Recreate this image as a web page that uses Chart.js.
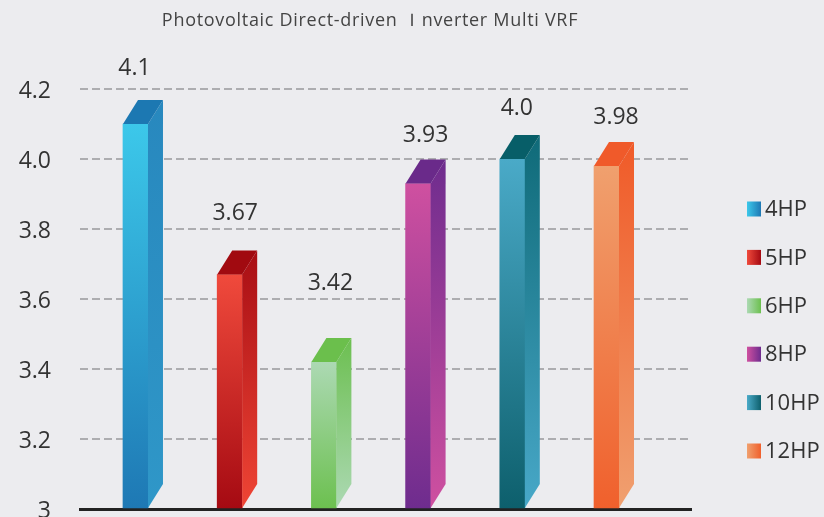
<!DOCTYPE html>
<html>
<head>
<meta charset="utf-8">
<title>Photovoltaic Direct-driven Inverter Multi VRF</title>
<script src="https://cdn.jsdelivr.net/npm/chart.js@4.4.0/dist/chart.umd.min.js"></script>
<style>
  html, body { margin: 0; padding: 0; background: #ececef; }
  #wrap { width: 824px; height: 517px; }
</style>
</head>
<body>
<div id="wrap"><canvas id="vrf-chart"></canvas></div>
<script>
// models and their ratings
var models = ['4HP', '5HP', '6HP', '8HP', '10HP', '12HP'];
var ratings = [4.1, 3.67, 3.42, 3.93, 4.0, 3.98];
var yTicks = [3, 3.2, 3.4, 3.6, 3.8, 4.0, 4.2];
var heading = 'Photovoltaic Direct-driven \uFF29nverter Multi VRF';

// colours per model
var lightTone = ['#3cc8ea', '#f04a3c', '#acd9b3', '#cf50a0', '#4aaac8', '#f0a06e'];
var darkTone  = ['#1e78b4', '#a50a12', '#6cc04f', '#6e2c8e', '#0d5f6c', '#f0602c'];
var sideTop   = ['#2888be', '#a80e14', '#6cbf50', '#6e2c8e', '#0f6a78', '#f05a28'];
var sideBase  = ['#2f97c8', '#ef4535', '#acd9b3', '#cf50a0', '#48a8c8', '#f0a070'];
var lidTone   = ['#1c78b2', '#a10a10', '#6bbf4c', '#6a2a8a', '#075e68', '#f05a2a'];

var FONT = "'Open Sans', 'DejaVu Sans', sans-serif";

function valueText(v) {
    var s = String(v);
    return s.indexOf('.') >= 0 ? s : v.toFixed(1);
}

// vertical gradient on the front face of each bar
function frontFill(context) {
    var chart = context.chart;
    var i = context.dataIndex;
    if (i === undefined) return darkTone[0];
    if (!chart.chartArea || !chart.scales.y) return darkTone[i];
    var y = chart.scales.y;
    var g = chart.ctx.createLinearGradient(0, y.getPixelForValue(ratings[i]), 0, y.getPixelForValue(y.min));
    g.addColorStop(0, lightTone[i]);
    g.addColorStop(1, darkTone[i]);
    return g;
}

// heading line above the plot
var headline = {
    id: 'headline',
    afterDraw: function(chart, args, opts) {
        var c = chart.ctx;
        c.save();
        c.font = opts.size + 'px ' + FONT;
        c.fillStyle = '#444';
        c.textAlign = 'center';
        c.textBaseline = 'middle';
        if ('letterSpacing' in c) c.letterSpacing = opts.spacing + 'px';
        c.fillText(heading, opts.x, opts.y);
        c.restore();
    }
};

// side and top faces that give the bars their depth
var blockFaces = {
    id: 'blockFaces',
    afterDatasetsDraw: function(chart, args, opts) {
        var c = chart.ctx;
        var dx = opts.depthX, dy = opts.depthY;
        c.save();
        chart.getDatasetMeta(0).data.forEach(function(bar, i) {
            var p = bar.getProps(['x', 'y', 'base', 'width'], true);
            var l = p.x - p.width / 2, r = p.x + p.width / 2;

            var g = c.createLinearGradient(0, p.y - dy, 0, p.base);
            g.addColorStop(0, sideTop[i]);
            g.addColorStop(1, sideBase[i]);
            c.fillStyle = g;
            c.beginPath();
            c.moveTo(r, p.y);
            c.lineTo(r + dx, p.y - dy);
            c.lineTo(r + dx, p.base - dy);
            c.lineTo(r, p.base);
            c.closePath();
            c.fill();

            c.fillStyle = lidTone[i];
            c.beginPath();
            c.moveTo(l, p.y);
            c.lineTo(l + dx, p.y - dy);
            c.lineTo(r + dx, p.y - dy);
            c.lineTo(r, p.y);
            c.closePath();
            c.fill();
        });
        c.restore();
    }
};

// numbers above the bars
var barValues = {
    id: 'barValues',
    afterDatasetsDraw: function(chart, args, opts) {
        var c = chart.ctx;
        c.save();
        c.font = '23px ' + FONT;
        c.fillStyle = '#333';
        c.textAlign = 'center';
        c.textBaseline = 'middle';
        chart.getDatasetMeta(0).data.forEach(function(bar, i) {
            var p = bar.getProps(['x', 'y'], true);
            c.fillText(valueText(ratings[i]), p.x + opts.shift[i], p.y - opts.lift[i]);
        });
        c.restore();
    }
};

// key on the right
var sideKey = {
    id: 'sideKey',
    afterDraw: function(chart, args, opts) {
        var c = chart.ctx;
        c.save();
        c.font = '22px ' + FONT;
        c.textBaseline = 'middle';
        c.textAlign = 'left';
        models.forEach(function(name, i) {
            var cy = opts.top + i * opts.gap;
            var g = c.createLinearGradient(opts.x, 0, opts.x + 14, 0);
            g.addColorStop(0, lightTone[i]);
            g.addColorStop(1, darkTone[i]);
            c.fillStyle = g;
            c.fillRect(opts.x, cy - 7.5, 14, 15);
            c.fillStyle = '#333';
            c.fillText(name, opts.x + 18, cy + 1);
        });
        c.restore();
    }
};

var ctx = document.getElementById('vrf-chart').getContext('2d');
var chart = new Chart(ctx, {
    type: 'bar',
    data: {
        datasets: [{
            label: 'VRF',
            data: ratings.map(function(v, i) { return { x: i, y: v }; }),
            base: yTicks[0],
            backgroundColor: frontFill,
            borderWidth: 0,
            barThickness: 25
        }]
    },
    plugins: [headline, blockFaces, barValues, sideKey],
    options: {
        responsive: true,
        maintainAspectRatio: false,
        animation: false,
        layout: { padding: { top: 89, left: 0, right: 133, bottom: 8 } },
        plugins: {
            legend: { display: false },
            tooltip: { enabled: false },
            title: { display: false },
            headline: { x: 370, y: 21, size: 18, spacing: 0.7 },
            blockFaces: { depthX: 15, depthY: 24 },
            barValues: {
                lift: [56, 61, 79, 48, 51, 49],
                shift: [-1, 5.5, 6.5, 7.5, 4.5, 9.5]
            },
            sideKey: { x: 747, top: 209, gap: 48.4 }
        },
        scales: {
            x: {
                type: 'linear',
                offset: false,
                min: -0.589,
                max: 5.897,
                z: 1,
                grid: { display: false },
                ticks: { display: false },
                border: { display: true, color: '#222', width: 3 },
                afterFit: function(scale) { scale.height = 0; }
            },
            y: {
                min: yTicks[0],
                max: yTicks[yTicks.length - 1],
                afterBuildTicks: function(scale) {
                    scale.ticks = yTicks.map(function(v) { return { value: v }; });
                },
                afterFit: function(scale) {
                    scale.width = 80;
                    scale.paddingTop = 0;
                    scale.paddingBottom = 0;
                },
                border: { display: false, dash: [8, 4] },
                grid: {
                    drawTicks: false,
                    lineWidth: 2,
                    color: function(c) {
                        return c.tick && c.tick.value === yTicks[0] ? 'rgba(0,0,0,0)' : '#adadb0';
                    }
                },
                ticks: {
                    padding: 29,
                    labelOffset: 2,
                    color: '#333',
                    font: { family: FONT, size: 23 },
                    callback: function(v) { return v === yTicks[0] ? '3' : v.toFixed(1); }
                }
            }
        }
    }
});
</script>
</body>
</html>
